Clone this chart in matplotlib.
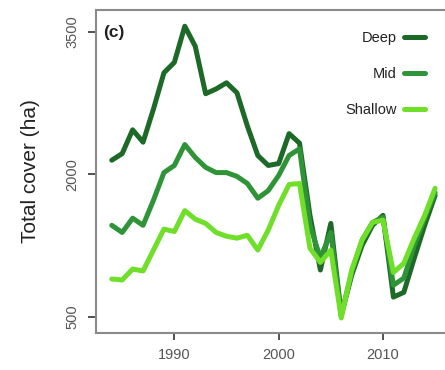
import matplotlib
matplotlib.use("Agg")
import matplotlib.pyplot as plt

plt.rcParams["font.family"] = ["Liberation Sans", "DejaVu Sans"]

years = list(range(1984, 2016))

deep = [2150, 2220, 2470, 2340, 2690, 3070, 3180, 3560, 3350, 2850,
        2900, 2965, 2860, 2510, 2200, 2095, 2115, 2430, 2330, 1570,
        995, 1485, 520, 940, 1255, 1465, 1570, 710, 760, 1120,
        1465, 1780]
mid = [1465, 1390, 1540, 1465, 1730, 2020, 2095, 2315, 2180, 2075,
       2020, 2020, 1980, 1905, 1750, 1830, 1990, 2200, 2270, 1465,
       1120, 1390, 520, 970, 1310, 1495, 1550, 835, 910, 1255,
       1540, 1810]
shallow = [900, 890, 1005, 985, 1205, 1425, 1400, 1620, 1530, 1485,
           1390, 1350, 1330, 1360, 1205, 1415, 1675, 1895, 1905, 1225,
           1075, 1205, 490, 995, 1310, 1495, 1520, 970, 1065, 1330,
           1570, 1855]

names = ["Deep", "Mid", "Shallow"]
colors = ["#1d6a28", "#2f9438", "#6fdf2a"]

fig = plt.figure(figsize=(4.45, 3.7), dpi=100)
ax = fig.add_axes([0.216, 0.1, 0.804, 0.873])

for vals, name, col in zip([deep, mid, shallow], names, colors):
    ax.plot(years, vals, color=col, lw=3.6, label=name, solid_capstyle="round")

ax.set_xlim(1982.5, 2016.8)
ax.set_ylim(332, 3731)
ax.set_xticks([1990, 2000, 2010])
ax.set_yticks([500, 2000, 3500])

for s in ax.spines.values():
    s.set_color("#8a8a8a")
    s.set_linewidth(1.5)

ax.tick_params(axis="both", direction="out", color="#333333", width=1.2,
               labelsize=10.5, labelcolor="#555555")
ax.tick_params(axis="y", length=6, pad=6)
ax.tick_params(axis="x", length=5, pad=6)
for lab in ax.get_yticklabels():
    lab.set_rotation(90)
    lab.set_va("center")

ax.set_ylabel("Total cover (ha)", fontsize=15, color="#222222", labelpad=18)
ax.text(0.02, 0.955, "(c)", transform=ax.transAxes, fontsize=12.5,
        fontweight="bold", va="top", ha="left", color="#222222")

leg = ax.legend(loc="upper right", bbox_to_anchor=(0.955, 0.975), frameon=False,
                markerfirst=False, fontsize=10.5, handlelength=1.4,
                labelspacing=1.5, handletextpad=0.5)
for t in leg.get_texts():
    t.set_ha("right")
    t.set_color("#222222")

fig.savefig("out.png", dpi=100)
